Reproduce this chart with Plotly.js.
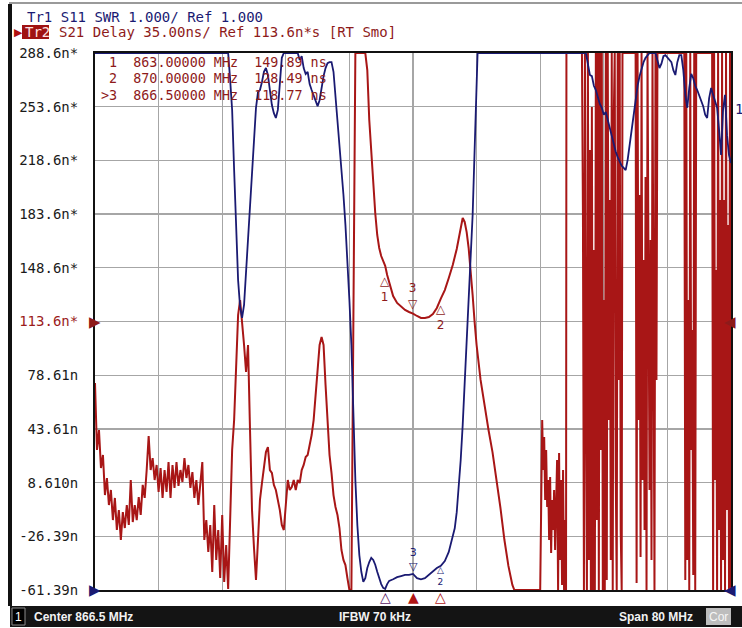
<!DOCTYPE html>
<html><head><meta charset="utf-8">
<script src="https://cdn.plot.ly/plotly-3.0.1.min.js"></script>
<style>html,body{margin:0;padding:0;background:#fff}#chart{width:742px;height:628px}</style>
</head><body><div id="chart"></div>
<script>
// ---------- instrument settings ----------
const centerMHz = 866.5;
const spanMHz = 80;
const delayRange = [-61.39, 288.61];   // Tr2 delay, 35 ns/div, ref 113.6 ns at mid screen
const swrRange = [1, 11];              // Tr1 SWR, 1/div, ref 1 at bottom

const yTickVals = [-61.39, -26.39, 8.61, 43.61, 78.61, 113.61, 148.61, 183.61, 218.61, 253.61, 288.61];
const yTickText = ['-61.39n', '-26.39n', '8.610n', '43.61n', '78.61n', '113.6n*', '148.6n*', '183.6n*', '218.6n*', '253.6n*', '288.6n*'];

// ---------- markers ----------
const markerNames = ['1', '2', '>3'];
const markerFreq = [863.0, 870.0, 866.5];
const markerDelay = [149.89, 128.49, 118.77];
const markerSwr = [1.02, 1.45, 1.30];

// ---------- Tr2 S21 delay (ns) ----------
const delayLowFreq = [826.5, 826.75, 827, 827.25, 827.5, 827.75, 828, 828.25, 828.5, 828.75, 829, 829.25, 829.5, 829.75, 830, 830.25, 830.5, 830.75, 831, 831.25, 831.5, 831.75, 832, 832.25, 832.5, 832.75, 833, 833.25, 833.5, 833.75, 834, 834.25, 834.5, 834.75, 835, 835.25, 835.5, 835.75, 836, 836.25, 836.5, 836.75, 837, 837.25, 837.5, 837.75, 838, 838.25, 838.5, 838.75, 839, 839.25, 839.5, 839.75, 840, 840.25, 840.5, 840.75, 841, 841.25, 841.5, 841.75, 842, 842.25, 842.5, 842.75, 843, 843.25, 843.5];
const delayLowNs = [73.5, 29.9, 42.9, 18.1, 26.6, 0.5, 11.6, -6.0, 3.8, -15.8, -1.4, -22.3, -9.3, -28.8, -10.6, -21.0, -6.0, -19.0, 10.3, -17.1, -6.0, -15.8, -0.8, -12.5, 7.1, -1.4, 16.8, 39.0, 16.8, 24.6, 10.3, 20.1, 2.5, 18.1, -1.4, 16.8, 2.5, 22.0, -1.4, 20.1, 5.1, 22.0, 6.4, 16.8, 9.0, 24.6, 11.6, 20.1, 5.1, 15.5, -1.4, 10.3, -6.0, 7.1, 22.0, -28.8, -15.8, -36.6, -19.0, -49.7, -6.0, -41.8, -22.3, -53.6, -12.5, -56.2, -32.1, -60.7, -15.8];

const delayMidFreq = [843.75, 844, 844.25, 844.5, 844.75, 845, 845.25, 845.5, 845.75, 846, 846.25, 846.5, 846.75, 847, 847.25, 847.5, 847.75, 848, 848.25, 848.5, 848.75, 849, 849.25, 849.5, 849.75, 850, 850.25, 850.5, 850.75, 851, 851.25, 851.5, 851.75, 852, 852.25, 852.5, 852.75, 853, 853.25, 853.5, 853.75, 854, 854.25, 854.5, 854.75, 855, 855.25, 855.5, 855.75, 856, 856.25, 856.5, 856.75, 857, 857.25, 857.5, 857.75, 858, 858.25, 858.5, 858.75, 859, 859.25, 860.5];
const delayMidNs = [29.9, 49.4, 82.0, 117.8, 127.6, 114.6, 98.3, 80.7, 98.3, 42.9, -9.3, -34.0, -54.9, -28.8, -2.7, 8.3, 20.1, 28.5, 31.8, 16.8, 14.9, 7.1, 3.8, -2.7, -9.3, -19.0, -22.3, -6.0, 10.3, 3.8, 5.7, 10.3, 3.8, 10.3, 8.3, 16.8, 20.1, 25.3, 26.6, 33.1, 39.6, 49.4, 65.7, 85.3, 98.3, 103.5, 98.3, 72.2, 46.2, 26.6, 14.9, 0.5, -7.3, -12.5, -21.0, -35.3, -41.8, -45.1, -53.6, -61.4, -61.4, 108.1, 288.6, 288.6];

const delayPassFreq = [860.75, 861, 861.25, 861.5, 861.75, 862, 862.25, 862.5, 862.75, 863, 863.25, 863.5, 863.75, 864, 864.5, 865, 865.5, 866, 866.5, 867, 867.5, 868, 868.5, 869, 869.5, 870, 870.5, 871, 871.5, 872, 872.5, 872.75, 873, 873.25, 873.5, 873.75, 874, 874.25, 874.5, 875, 875.5, 876, 876.5, 877, 877.5, 878, 878.5, 879, 879.25, 882.5];
const delayPassNs = [277.5, 244.9, 222.1, 202.6, 184.3, 170.0, 161.5, 156.3, 152.4, 149.89, 143.9, 138.7, 134.1, 130.2, 125.7, 123.1, 121.1, 119.8, 118.77, 117.2, 115.9, 115.9, 116.5, 118.5, 122.4, 128.49, 134.1, 142.0, 150.4, 160.9, 173.2, 181.1, 178.5, 171.9, 161.5, 148.5, 130.9, 113.3, 98.3, 75.5, 57.9, 42.9, 28.5, 11.6, -7.9, -28.8, -45.7, -58.1, -61.4, -61.4];

const delayHighFreq = [882.625, 882.75, 882.875, 883, 883.125, 883.25, 883.375, 883.5, 883.625, 883.75, 883.875, 884, 884.125, 884.25, 884.375, 884.5, 884.625, 884.75, 884.875, 885, 885.125, 885.25, 885.375, 885.5, 885.625, 885.75];
const delayHighNs = [-15.8, 49.4, 16.8, 38.3, -2.7, 29.9, -7.3, 10.3, -28.8, 12.3, -37.3, -2.7, -22.3, 3.8, -35.3, -9.3, 23.3, -61.4, 27.9, -41.8, 10.3, -58.1, 16.8, -61.4, -15.8, -61.4];

const delayChaosFreq = [885.8, 887.75, 887.875, 888, 888.125, 888.25, 888.375, 888.5, 888.625, 888.75, 888.875, 889, 889.125, 889.25, 889.375, 889.5, 889.625, 889.75, 889.875, 890, 890.125, 890.25, 890.375, 890.5, 890.625, 890.75, 890.875, 891, 891.125, 891.25, 891.375, 891.5, 891.625, 891.75, 891.875, 892, 892.125, 892.25, 892.375, 892.5, 892.625, 892.75, 892.85, 894.5, 894.625, 894.75, 894.875, 895, 895.125, 895.25, 895.375, 895.5, 895.625, 895.75, 895.875, 896, 896.125, 896.25, 896.375, 896.5, 896.625, 896.75, 896.875, 897, 897.125, 897.25, 900.625, 900.75, 900.875, 901, 901.125, 901.25, 901.375, 901.5, 901.625, 901.75, 901.875, 902, 902.125, 904.125, 904.25, 904.375, 904.5, 904.625, 904.75, 904.875, 905, 905.125, 905.25, 905.375, 905.5, 905.625, 905.75, 905.875, 906, 906.125, 906.25, 906.375, 906.5];
const delayChaosNs = [288.6, 288.6, 184.3, -61.4, 288.6, 62.4, -61.4, 288.6, -41.8, 225.4, -61.4, 253.4, -61.4, 160.2, -61.4, 288.6, -15.8, 288.6, -61.4, 288.6, 29.9, 288.6, -61.4, 127.6, -61.4, 288.6, -54.9, 288.6, 49.4, 192.8, -41.8, 288.6, -61.4, 244.9, 288.6, 16.8, -61.4, 288.6, 75.5, 288.6, -22.3, -61.4, 288.6, 288.6, -56.8, 288.6, 49.4, 196.1, -39.9, 288.6, 10.3, 153.7, -22.3, 207.8, -61.4, 288.6, 127.6, 3.8, 166.7, -41.8, 288.6, 29.9, -61.4, 288.6, 75.5, 288.6, 288.6, -54.9, 288.6, -41.8, 127.6, -61.4, 288.6, 29.9, 108.1, -51.6, 288.6, -61.4, 288.6, 288.6, -61.4, 288.6, 10.3, 147.2, -61.4, 288.6, -22.3, 192.8, -61.4, 288.6, -41.8, 192.8, -61.4, 288.6, -9.3, 176.5, -61.4, 288.6, -61.4];

// ---------- Tr1 S11 SWR ----------
const swrLowFreq = [826.5, 843.25, 843.5, 843.75, 844, 844.25, 844.5, 844.75, 845, 845.25, 845.5, 845.75, 846, 846.25, 846.5, 846.75, 847, 847.25, 847.5, 847.75, 848, 848.25, 848.5, 848.75, 849, 849.25, 849.5, 849.75, 850, 850.25, 852, 852.25, 852.5, 852.75, 853, 853.25, 853.5, 853.75, 854, 854.25, 854.5, 854.75, 855, 855.25, 855.5, 855.75, 856, 856.25, 856.5, 856.75, 857, 857.25, 857.5, 857.75, 858, 858.25, 858.5, 858.75, 859, 859.25, 859.5, 859.75, 860];
const swrLowVal = [11, 11, 10.50, 9.94, 8.82, 7.70, 6.77, 6.27, 6.07, 6.31, 6.96, 7.61, 8.26, 8.82, 9.47, 9.98, 10.27, 10.31, 10.46, 10.65, 10.72, 10.59, 10.31, 10.03, 9.88, 9.79, 9.94, 10.50, 10.91, 11, 11, 10.87, 10.94, 10.72, 10.61, 10.65, 10.42, 10.31, 10.20, 10.09, 10.01, 10.12, 10.35, 10.57, 10.72, 10.81, 10.83, 10.83, 10.65, 10.22, 9.75, 9.38, 8.91, 8.36, 7.80, 7.15, 6.40, 5.56, 4.17, 3.05, 2.21, 1.65, 1.34];

const swrPassFreq = [860.25, 860.5, 860.75, 861, 861.25, 861.5, 861.75, 862, 862.25, 862.5, 862.75, 863, 863.25, 863.5, 864, 864.5, 865, 865.5, 866, 866.5, 867, 867.5, 868, 868.5, 869, 869.5, 870, 870.5, 871, 871.5, 871.75, 872, 872.25, 872.5, 872.75, 873, 873.25, 873.5, 873.75, 874, 874.25, 874.375, 874.5, 874.625];
const swrPassVal = [1.15, 1.22, 1.41, 1.52, 1.60, 1.56, 1.47, 1.34, 1.22, 1.11, 1.04, 1.02, 1.11, 1.17, 1.20, 1.24, 1.26, 1.28, 1.28, 1.30, 1.22, 1.20, 1.22, 1.28, 1.35, 1.41, 1.45, 1.54, 1.71, 1.97, 2.15, 2.45, 2.86, 3.42, 4.07, 4.82, 5.66, 6.40, 7.15, 7.98, 9.19, 9.94, 10.59, 11];

const swrHighFreq = [888.25, 888.5, 888.75, 889, 889.25, 889.5, 889.75, 890, 890.25, 890.5, 890.75, 891, 891.25, 891.5, 891.75, 892, 892.25, 892.5, 892.75, 893, 893.25, 893.5, 893.75, 894, 894.25, 894.5, 894.75, 895, 895.25, 895.5, 895.75, 896, 896.25, 897, 897.25, 897.5, 897.75, 898, 898.25, 898.5, 898.75, 899, 899.25, 899.5, 899.75, 900, 900.25, 900.5, 900.75, 901, 901.25, 901.5, 901.75, 902, 902.25, 902.5, 902.75, 903, 903.25, 903.5, 903.75, 904, 904.25, 904.5, 904.75, 905, 905.25, 905.5, 905.75, 906, 906.25, 906.5];
const swrHighVal = [11, 10.78, 10.59, 10.57, 10.39, 10.31, 10.16, 10.05, 9.98, 9.85, 9.90, 9.75, 9.57, 9.42, 9.27, 9.16, 9.06, 8.97, 8.90, 8.86, 8.82, 9.01, 9.29, 9.57, 9.90, 10.16, 10.39, 10.57, 10.72, 10.83, 10.91, 10.96, 11, 11, 10.87, 10.72, 10.80, 10.94, 10.96, 10.91, 10.87, 10.83, 10.68, 10.59, 10.83, 10.96, 10.96, 10.68, 10.22, 9.98, 10.35, 10.61, 10.53, 10.39, 10.31, 10.20, 10.12, 10.01, 9.85, 9.79, 10.16, 10.35, 10.22, 10.12, 9.98, 9.57, 9.10, 9.94, 10.22, 9.47, 9.10, 8.95];

// ---------- build ----------
const delayFreq = [].concat(delayLowFreq, delayMidFreq, delayPassFreq, delayHighFreq, delayChaosFreq);
const delayNs = [].concat(delayLowNs, delayMidNs, delayPassNs, delayHighNs, delayChaosNs);
const swrFreq = [].concat(swrLowFreq, swrPassFreq, swrHighFreq);
const swrVal = [].concat(swrLowVal, swrPassVal, swrHighVal);

const W = 742, H = 628, PL = 95, PR = 731, PT = 53, PB = 590;
const px = x => (x - PL) / (PR - PL);
const py = y => (PB - y) / (PB - PT);

const BLUE = '#1a1a72', RED = '#a81616', DRED = '#8e1a1a';
const MONO = 'DejaVu Sans Mono';

function txt(x, y, text, color, o) {
  return Object.assign({xref: 'paper', yref: 'paper', x: px(x), y: py(y), text: text, showarrow: false,
    xanchor: 'left', yanchor: 'middle', font: {family: MONO, size: 14, color: color}}, o || {});
}
// triangle + number as one label; 'below' puts it under the point, otherwise above
function markTag(f, v, yref, tri, num, color, below, yshift, size) {
  return {xref: 'x', yref: yref, x: f, y: v, text: below ? tri + '<br>' + num : num + '<br>' + tri,
    showarrow: false, xanchor: 'center', yanchor: below ? 'top' : 'bottom', yshift: yshift, borderpad: 0,
    font: {family: 'DejaVu Sans', size: size, color: color}};
}

const annotations = [
  txt(25, 17, 'Tr1 S11 SWR 1.000/ Ref 1.000', BLUE),
  txt(12, 32, '▶', '#b01010', {font: {family: 'DejaVu Sans', size: 11, color: '#b01010'}}),
  txt(23, 32, 'Tr2', '#ffe0e0'),
  txt(57, 32, 'S21 Delay 35.00ns/ Ref 113.6n*s [RT Smo]', DRED),
  // ref arrows
  {xref: 'paper', yref: 'y', x: px(87), y: 113.61, text: '▶', showarrow: false, font: {family: 'DejaVu Sans', size: 15, color: DRED}},
  {xref: 'paper', yref: 'y2', x: px(87), y: 1, text: '▶', showarrow: false, font: {family: 'DejaVu Sans', size: 15, color: BLUE}},
  {xref: 'paper', yref: 'y', x: px(738), y: 113.61, text: '◀', showarrow: false, font: {family: 'DejaVu Sans', size: 15, color: DRED}},
  {xref: 'paper', yref: 'y2', x: px(738), y: 1, text: '◀', showarrow: false, font: {family: 'DejaVu Sans', size: 15, color: BLUE}},
  txt(733, 109, '1', BLUE),
  // status bar
  txt(18, 617, '1', '#ffffff', {xanchor: 'center', font: {family: 'Liberation Sans', size: 12, color: '#fff'}}),
  txt(32, 617, '<b>Center 866.5 MHz</b>', '#f2f2f2', {font: {family: 'Liberation Sans Narrow, Liberation Sans', size: 12, color: '#f2f2f2'}}),
  txt(375, 617, '<b>IFBW 70 kHz</b>', '#f2f2f2', {xanchor: 'center', font: {family: 'Liberation Sans Narrow, Liberation Sans', size: 12, color: '#f2f2f2'}}),
  txt(617, 617, '<b>Span 80 MHz</b>', '#f2f2f2', {font: {family: 'Liberation Sans Narrow, Liberation Sans', size: 12, color: '#f2f2f2'}}),
  txt(718, 617, 'Cor', '#f6f6f6', {xanchor: 'center', font: {family: 'Liberation Sans', size: 12, color: '#f6f6f6'}})
];

// marker readout
for (let i = 0; i < markerFreq.length; i++) {
  const name = (markerNames[i].length === 1 ? ' ' : '') + markerNames[i];
  const line = name + '  ' + markerFreq[i].toFixed(5) + ' MHz  ' + markerDelay[i].toFixed(2) + ' ns';
  annotations.push(txt(100, 63 + 16 * i, line.replace(/ /g, '&nbsp;'), DRED,
    {borderpad: 0, font: {family: MONO, size: 13.4, color: DRED}}));
}
// marker tags on Tr2 (delay)
const numLabel = ['1', '2', '3'];
annotations.push(markTag(markerFreq[0], markerDelay[0], 'y', '△', numLabel[0], DRED, true, -7, 12));
annotations.push(markTag(markerFreq[1], markerDelay[1], 'y', '△', numLabel[1], DRED, true, -2, 12));
annotations.push(markTag(markerFreq[2], markerDelay[2], 'y', '▽', numLabel[2], DRED, false, 2, 12));
// marker tags on Tr1 (SWR); marker 1 sits on the axis indicator
annotations.push(markTag(markerFreq[1], markerSwr[1], 'y2', '△', numLabel[1], BLUE, true, 2, 9));
annotations.push(markTag(markerFreq[2], markerSwr[2], 'y2', '▽', numLabel[2], BLUE, false, 0, 11));
// marker position indicators on the frequency axis (active trace: marker 3 filled)
const axisTri = ['△', '△', '▲'], axisCol = ['#5a1a66', '#b01515', '#b01515'];
for (let i = 0; i < markerFreq.length; i++) {
  annotations.push({xref: 'x', yref: 'paper', x: markerFreq[i], y: 0, text: axisTri[i], showarrow: false,
    yanchor: 'middle', yshift: -7, borderpad: 0, font: {family: 'DejaVu Sans', size: 14, color: axisCol[i]}});
}

const shapes = [
  {type: 'line', xref: 'paper', yref: 'paper', x0: px(9), x1: px(742), y0: py(3), y1: py(3), line: {color: '#9a9a9a', width: 2}},
  {type: 'rect', xref: 'paper', yref: 'paper', x0: px(8), x1: px(12), y0: py(606), y1: py(4), fillcolor: '#111', line: {width: 0}},
  {type: 'rect', xref: 'paper', yref: 'paper', x0: px(10), x1: px(742), y0: py(627), y1: py(606), fillcolor: '#141414', line: {width: 0}},
  {type: 'rect', xref: 'paper', yref: 'paper', x0: px(12), x1: px(25), y0: py(625), y1: py(608), fillcolor: '#000', line: {color: '#8a8a8a', width: 1}},
  {type: 'rect', xref: 'paper', yref: 'paper', x0: px(706), x1: px(731), y0: py(625), y1: py(608), fillcolor: '#bdbdbd', line: {width: 0}},
  {type: 'rect', xref: 'paper', yref: 'paper', x0: px(22), x1: px(49), y0: py(39), y1: py(25), fillcolor: '#a01212', line: {width: 0}, layer: 'below'}
];

const traces = [
  {x: delayFreq, y: delayNs, xaxis: 'x', yaxis: 'y', type: 'scatter', mode: 'lines',
    line: {color: RED, width: 2}, hoverinfo: 'skip', name: 'Tr2 S21 Delay'},
  {x: swrFreq, y: swrVal, xaxis: 'x', yaxis: 'y2', type: 'scatter', mode: 'lines',
    line: {color: BLUE, width: 1.8}, hoverinfo: 'skip', name: 'Tr1 S11 SWR'}
];

const layout = {
  width: W, height: H, showlegend: false,
  margin: {l: PL, r: W - PR, t: PT, b: H - PB, pad: 0},
  paper_bgcolor: '#ffffff', plot_bgcolor: '#ffffff',
  xaxis: {range: [centerMHz - spanMHz / 2, centerMHz + spanMHz / 2], tick0: centerMHz - spanMHz / 2, dtick: spanMHz / 10,
    showticklabels: false, ticks: '', showgrid: true, gridcolor: '#a6a6a6', gridwidth: 1.4, zeroline: false,
    showline: true, mirror: true, linecolor: '#111', linewidth: 2, layer: 'below traces', fixedrange: true},
  yaxis: {range: delayRange, tickmode: 'array', tickvals: yTickVals,
    ticktext: yTickText.map(t => t === '113.6n*' ? '<span style="color:#9b1b1b">' + t + '</span>' : t),
    ticks: '', ticklabelstandoff: 12, tickfont: {family: MONO, size: 14, color: '#1a1a1a'},
    showgrid: true, gridcolor: '#a6a6a6', gridwidth: 1.4, zeroline: false,
    showline: true, mirror: true, linecolor: '#111', linewidth: 2, layer: 'below traces', fixedrange: true},
  yaxis2: {range: swrRange, overlaying: 'y', visible: false, fixedrange: true},
  annotations: annotations, shapes: shapes
};

Plotly.newPlot('chart', traces, layout, {displayModeBar: false, staticPlot: true});
</script>
</body></html>
